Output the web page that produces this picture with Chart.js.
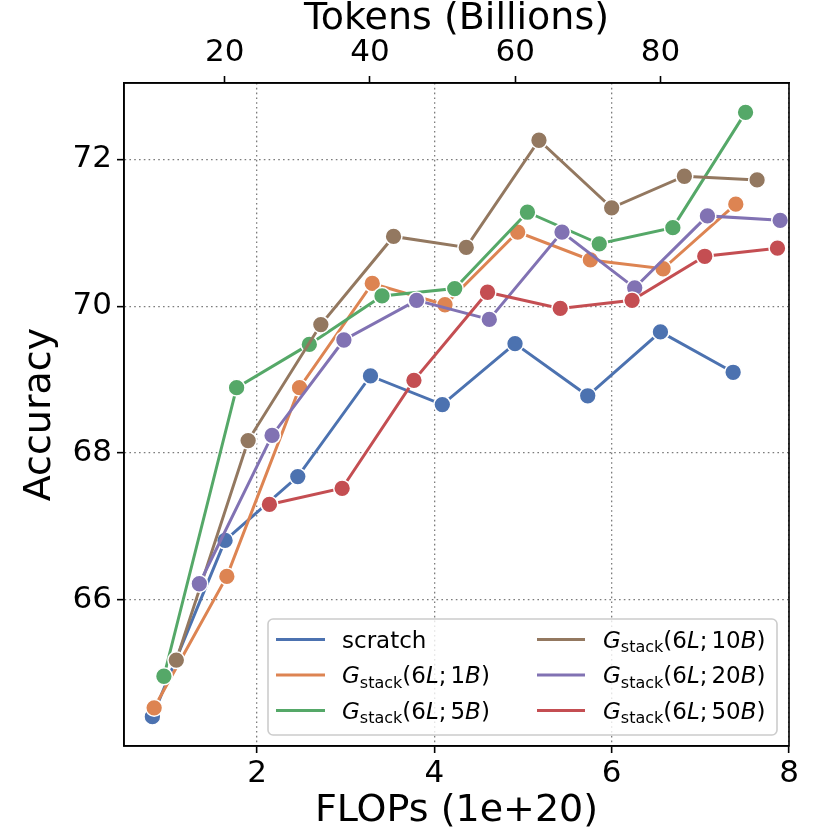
<!DOCTYPE html>
<html>
<head>
<meta charset="utf-8">
<script src="https://cdn.jsdelivr.net/npm/chart.js@4.4.0/dist/chart.umd.min.js"></script>
<style>
  html, body { margin: 0; padding: 0; background: #fff; }
  #wrap { width: 830px; height: 830px; }
</style>
</head>
<body>
<div id="wrap"><canvas id="acc"></canvas></div>
<script>
// series: scratch, then G_stack(6L; nB) for growth points of 1, 5, 10, 20, 50B tokens
const growthTokens = ['1', '5', '10', '20', '50'];
const colors = ['#4C72B0', '#DD8452', '#55A868', '#937860', '#8172B3', '#C44E52'];

// FLOPs (1e+20) per point
const flopsScratch = [0.82, 1.64, 2.46, 3.28, 4.09, 4.91, 5.73, 6.55, 7.37];
const flops1B  = [0.84, 1.66, 2.48, 3.30, 4.12, 4.94, 5.76, 6.58, 7.40];
const flops5B  = [0.95, 1.77, 2.59, 3.41, 4.23, 5.05, 5.86, 6.69, 7.51];
const flops10B = [1.09, 1.90, 2.72, 3.54, 4.36, 5.18, 6.00, 6.82, 7.64];
const flops20B = [1.35, 2.17, 2.98, 3.80, 4.62, 5.44, 6.26, 7.08, 7.90];
const flops50B = [2.14, 2.96, 3.77, 4.60, 5.42, 6.23, 7.05, 7.87];

// accuracy per point
const accScratch = [64.41, 66.81, 67.68, 69.05, 68.66, 69.49, 68.78, 69.65, 69.10];
const acc1B  = [64.53, 66.32, 68.89, 70.31, 70.02, 71.01, 70.63, 70.51, 71.39];
const acc5B  = [64.96, 68.89, 69.48, 70.14, 70.24, 71.28, 70.85, 71.07, 72.64];
const acc10B = [65.18, 68.17, 69.75, 70.95, 70.80, 72.26, 71.34, 71.77, 71.72];
const acc20B = [66.22, 68.24, 69.54, 70.08, 69.82, 71.01, 70.25, 71.23, 71.17];
const acc50B = [67.30, 67.52, 68.99, 70.19, 69.97, 70.08, 70.68, 70.79];

// axes
const xTicks = [2, 4, 6, 8];
const yTicks = [66, 68, 70, 72];
const tokenTicks = [20, 40, 60, 80];
const xRange = [0.5, 8];
const yRange = [64.01, 73.04];
const tokenRange = [6.13, 97.69];

const FONT = '"DejaVu Sans", "Liberation Sans", sans-serif';

const flops = [flopsScratch, flops1B, flops5B, flops10B, flops20B, flops50B];
const accs = [accScratch, acc1B, acc5B, acc10B, acc20B, acc50B];
const labels = ['scratch'].concat(growthTokens.map(n => 'G_stack(6L; ' + n + 'B)'));

// legend text pieces: n = upright, i = italic, s = subscript
function labelParts(i) {
  if (i === 0) return [{t: 'scratch', s: 'n'}];
  const n = growthTokens[i - 1];
  return [
    {t: 'G', s: 'i'}, {t: 'stack', s: 's'}, {t: '(6', s: 'n'}, {t: 'L', s: 'i'},
    {t: ';', s: 'n'}, {gap: 4}, {t: n, s: 'n'}, {t: 'B', s: 'i'}, {t: ')', s: 'n'}
  ];
}

const datasets = flops.map((xs, i) => ({
  label: labels[i],
  data: xs.map((x, k) => ({x: x, y: accs[i][k]})),
  borderColor: colors[i],
  backgroundColor: colors[i],
  pointBackgroundColor: colors[i],
  pointBorderColor: '#ffffff',
  pointBorderWidth: 1.5,
  pointRadius: 8.4,
  borderWidth: 3,
  tension: 0,
  order: flops.length - i,
  xAxisID: 'x',
  yAxisID: 'y'
}));

const frame = {
  id: 'frame',
  afterDatasetsDraw(chart) {
    const {ctx, chartArea: a} = chart;
    ctx.save();
    ctx.strokeStyle = '#000';
    ctx.lineWidth = 1.6;
    ctx.strokeRect(a.left, a.top, a.right - a.left, a.bottom - a.top);
    ctx.restore();
  }
};

const mplLegend = {
  id: 'mplLegend',
  afterDraw(chart) {
    const ctx = chart.ctx;
    const bx = 268, by = 619, bw = 509, bh = 116, r = 5;
    ctx.save();
    ctx.beginPath();
    ctx.roundRect(bx, by, bw, bh, r);
    ctx.fillStyle = 'rgba(255,255,255,0.8)';
    ctx.fill();
    ctx.strokeStyle = '#cccccc';
    ctx.lineWidth = 1.6;
    ctx.stroke();

    const rowsY = [639.5, 675, 710.5];
    const colHandle = [[276, 325], [537, 585]];
    const colText = [342, 603];
    chart.data.datasets.forEach((ds, i) => {
      const col = Math.floor(i / 3), row = i % 3;
      const y = rowsY[row];
      ctx.strokeStyle = ds.borderColor;
      ctx.lineWidth = 3;
      ctx.beginPath();
      ctx.moveTo(colHandle[col][0], y);
      ctx.lineTo(colHandle[col][1], y);
      ctx.stroke();

      let x = colText[col];
      const base = y + 8;
      ctx.fillStyle = '#000';
      ctx.textBaseline = 'alphabetic';
      ctx.textAlign = 'left';
      labelParts(i).forEach(p => {
        if (p.gap) { x += p.gap; return; }
        let dy = 0;
        if (p.s === 'i') ctx.font = 'italic 23px ' + FONT;
        else if (p.s === 's') { ctx.font = '16px ' + FONT; dy = 4.5; }
        else ctx.font = '23px ' + FONT;
        ctx.fillText(p.t, x, base + dy);
        x += ctx.measureText(p.t).width;
      });
    });
    ctx.restore();
  }
};

function axis(extra) {
  return Object.assign({
    type: 'linear',
    ticks: {color: '#000', font: {family: FONT, size: 31, lineHeight: 1}, padding: 5},
    grid: {
      color: 'rgba(110,110,110,0.9)', lineWidth: 1.3,
      tickColor: '#000', tickLength: 7, tickWidth: 1.6
    },
    border: {display: true, color: '#000', width: 1.6, dash: [1.6, 3.2]},
  }, extra);
}

new Chart(document.getElementById('acc'), {
  type: 'line',
  data: {datasets: datasets},
  options: {
    responsive: true,
    maintainAspectRatio: false,
    animation: false,
    events: [],
    layout: {padding: {left: 0, right: 41, top: 0, bottom: 0}},
    plugins: {legend: {display: false}, tooltip: {enabled: false}},
    scales: {
      x: axis({
        position: 'bottom',
        min: xRange[0], max: xRange[1],
        afterBuildTicks: s => { s.ticks = xTicks.map(v => ({value: v})); },
        afterFit: s => { s.height = 84; },
        title: {display: true, text: 'FLOPs (1e+20)', color: '#000',
                font: {family: FONT, size: 38, lineHeight: 1}, padding: {top: 0, bottom: 0}}
      }),
      x2: axis({
        position: 'top',
        min: tokenRange[0], max: tokenRange[1],
        grid: {drawOnChartArea: false, tickColor: '#000', tickLength: 7, tickWidth: 1.6},
        ticks: {color: '#000', font: {family: FONT, size: 31, lineHeight: 1}, padding: 8},
        afterBuildTicks: s => { s.ticks = tokenTicks.map(v => ({value: v})); },
        afterFit: s => { s.height = 83; },
        title: {display: true, text: 'Tokens (Billions)', color: '#000',
                font: {family: FONT, size: 38, lineHeight: 1}, padding: {top: 0, bottom: 0}}
      }),
      y: axis({
        position: 'left',
        min: yRange[0], max: yRange[1],
        afterBuildTicks: s => { s.ticks = yTicks.map(v => ({value: v})); },
        afterFit: s => { s.width = 124; },
        title: {display: true, text: 'Accuracy', color: '#000',
                font: {family: FONT, size: 38, lineHeight: 1}, padding: {top: 21, bottom: 0}}
      })
    }
  },
  plugins: [frame, mplLegend]
});
</script>
</body>
</html>
